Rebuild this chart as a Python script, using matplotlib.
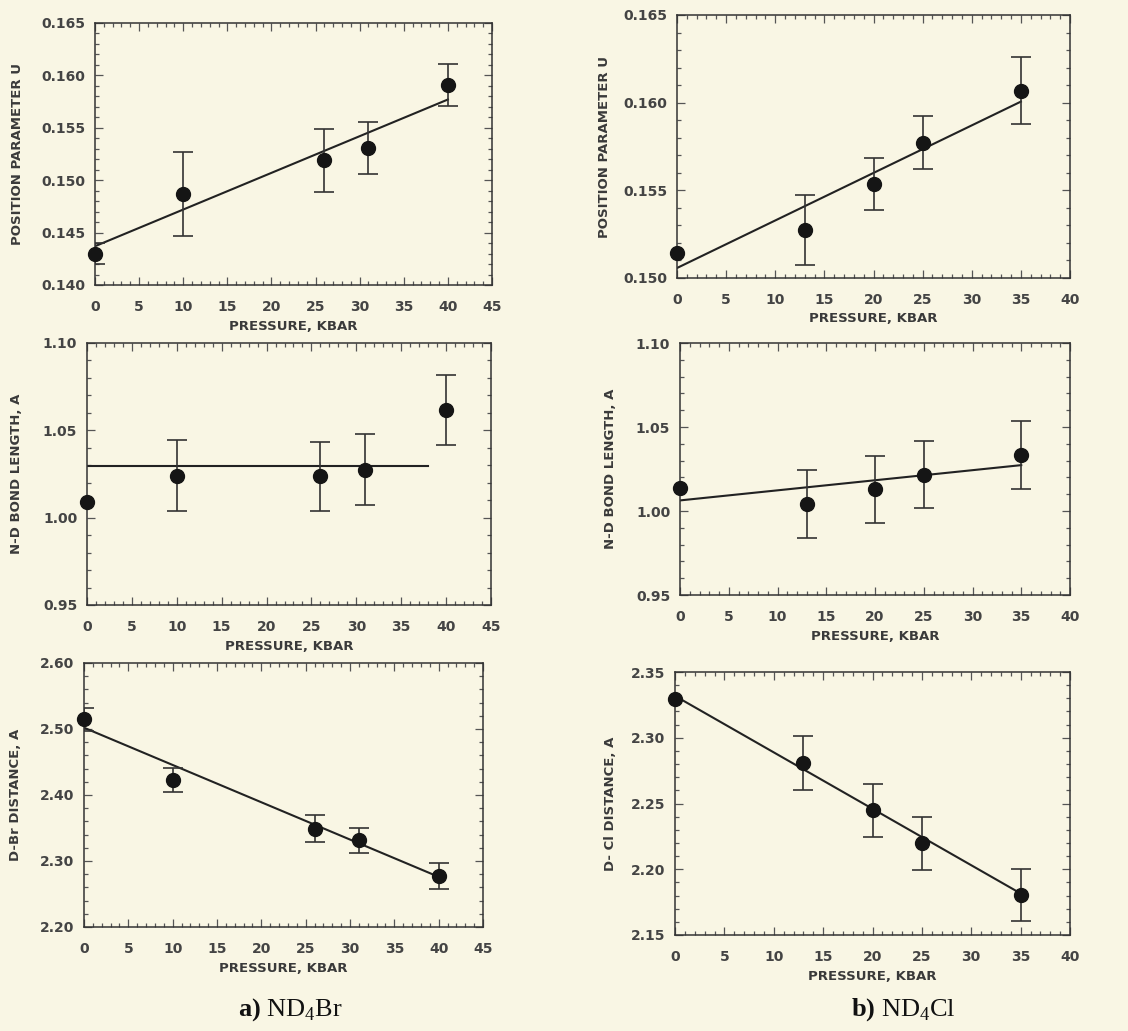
import matplotlib
matplotlib.use("Agg")
import matplotlib.pyplot as plt
from matplotlib.ticker import MultipleLocator
import numpy as np

plt.rcParams['mathtext.fontset'] = 'custom'
plt.rcParams['mathtext.rm'] = 'Liberation Serif'
plt.rcParams['mathtext.bf'] = 'Liberation Serif:bold'

# ---------------- data ----------------
# a) ND4Br
br_p = [0, 10, 26, 31, 40]
br_u = [0.1430, 0.1487, 0.1519, 0.1531, 0.1591]
br_u_err = [0.0010, 0.0040, 0.0030, 0.0025, 0.0020]
br_u_fit_p = [0, 40]
br_u_fit = [0.1437, 0.1577]

br_nd = [1.0092, 1.0241, 1.0236, 1.0274, 1.0618]
br_nd_err = [0.0, 0.0203, 0.0200, 0.0203, 0.0200]
br_nd_fit_p = [0, 38]
br_nd_fit = [1.0293, 1.0293]

br_dx = [2.5144, 2.4233, 2.3490, 2.3316, 2.2775]
br_dx_err = [0.018, 0.018, 0.020, 0.019, 0.020]
br_dx_fit_p = [0, 40]
br_dx_fit = [2.502, 2.276]

# b) ND4Cl
cl_p = [0, 13, 20, 25, 35]
cl_u = [0.1514, 0.15275, 0.15535, 0.15772, 0.16068]
cl_u_err = [0.0, 0.0020, 0.0015, 0.0015, 0.0019]
cl_u_fit_p = [0, 35]
cl_u_fit = [0.15057, 0.16006]

cl_nd = [1.0138, 1.0043, 1.0128, 1.0217, 1.0332]
cl_nd_err = [0.0, 0.0201, 0.0202, 0.0201, 0.0201]
cl_nd_fit_p = [0, 35]
cl_nd_fit = [1.0063, 1.0273]

cl_dx = [2.3297, 2.2809, 2.2449, 2.2196, 2.1804]
cl_dx_err = [0.0, 0.0203, 0.0200, 0.0203, 0.0200]
cl_dx_fit_p = [0, 35]
cl_dx_fit = [2.3318, 2.1816]

BG = '#f9f6e4'
INK = '#222222'

fig = plt.figure(figsize=(11.28, 10.31), dpi=100, facecolor=BG)

W, H = 1128, 1031
def ax_at(l, t, r, b):
    return fig.add_axes([l / W, 1 - b / H, (r - l) / W, (b - t) / H])

panels = [
    # (box, ylabel_x_px, x, y, err, fit_x, fit_y, xlim, ylim, ystep, yminor, ylabel, fmt)
    ((95, 23, 492, 285), 18, br_p, br_u, br_u_err, br_u_fit_p, br_u_fit,
     (0, 45), (0.140, 0.165), 0.005, 0.001, 'POSITION PARAMETER U', '{:.3f}'),
    ((677, 15, 1070, 278), 605, cl_p, cl_u, cl_u_err, cl_u_fit_p, cl_u_fit,
     (0, 40), (0.150, 0.165), 0.005, 0.001, 'POSITION PARAMETER U', '{:.3f}'),
    ((87, 343, 491, 605), 17, br_p, br_nd, br_nd_err, br_nd_fit_p, br_nd_fit,
     (0, 45), (0.95, 1.10), 0.05, 0.01, 'N-D BOND LENGTH, A', '{:.2f}'),
    ((680, 343, 1070, 595), 610, cl_p, cl_nd, cl_nd_err, cl_nd_fit_p, cl_nd_fit,
     (0, 40), (0.95, 1.10), 0.05, 0.01, 'N-D BOND LENGTH, A', '{:.2f}'),
    ((84, 663, 483, 927), 16, br_p, br_dx, br_dx_err, br_dx_fit_p, br_dx_fit,
     (0, 45), (2.20, 2.60), 0.10, 0.02, 'D-Br DISTANCE, A', '{:.2f}'),
    ((675, 672, 1070, 935), 610, cl_p, cl_dx, cl_dx_err, cl_dx_fit_p, cl_dx_fit,
     (0, 40), (2.15, 2.35), 0.05, 0.01, 'D- Cl DISTANCE, A', '{:.2f}'),
]

for (box, ylx, xs, ys, es, fx, fy, xlim, ylim, ystep, yminor, ylab, fmt) in panels:
    l, t, r, b = box
    ax = ax_at(*box)
    ax.set_facecolor(BG)
    ax.plot(fx, fy, color=INK, lw=1.5, zorder=2)
    xe = [x for x, e in zip(xs, es) if e > 0]
    ye = [y for y, e in zip(ys, es) if e > 0]
    ee = [e for e in es if e > 0]
    ax.errorbar(xe, ye, yerr=ee, fmt='none', ecolor='#333333',
                elinewidth=1.2, capsize=7, capthick=1.2, zorder=3)
    ax.plot(xs, ys, 'o', color='#151515', ms=10, zorder=4, clip_on=False)
    ax.set_xlim(*xlim)
    ax.set_ylim(*ylim)
    ax.xaxis.set_major_locator(MultipleLocator(5))
    ax.xaxis.set_minor_locator(MultipleLocator(1))
    yt = np.arange(ylim[0], ylim[1] + ystep / 2, ystep)
    ax.set_yticks(yt)
    ax.set_yticklabels([fmt.format(v) for v in yt])
    ax.yaxis.set_minor_locator(MultipleLocator(yminor))
    ax.tick_params(which='both', direction='in', top=True, right=True,
                   colors='#555555', labelcolor='#444444', width=0.9)
    ax.tick_params(which='major', length=6, labelsize=10)
    ax.tick_params(axis='x', which='major', pad=11)
    ax.tick_params(axis='y', which='major', pad=7)
    ax.tick_params(which='minor', length=3)
    for lab in ax.get_xticklabels() + ax.get_yticklabels():
        lab.set_fontfamily('DejaVu Sans')
        lab.set_fontweight('bold')
    for s in ax.spines.values():
        s.set_color('#333333')
        s.set_linewidth(1.1)
    hpx = b - t
    wpx = r - l
    ax.text(0.5, -41 / hpx, 'PRESSURE, KBAR', transform=ax.transAxes,
            ha='center', va='center', fontsize=9.5, fontweight='bold',
            family='DejaVu Sans', color='#3a3a3a')
    ax.text((ylx - l) / wpx, 0.5, ylab, transform=ax.transAxes, rotation=90,
            ha='center', va='center', fontsize=9.5, fontweight='bold',
            family='DejaVu Sans', color='#3a3a3a')

fig.text(290 / W, 1 - 1010 / H, r'$\mathbf{a)}$ ND$_4$Br', fontsize=19,
         family='Liberation Serif', ha='center', va='center', color='#111111')
fig.text(903 / W, 1 - 1010 / H, r'$\mathbf{b)}$ ND$_4$Cl', fontsize=19,
         family='Liberation Serif', ha='center', va='center', color='#111111')

fig.savefig('out.png', dpi=100, facecolor=BG)
